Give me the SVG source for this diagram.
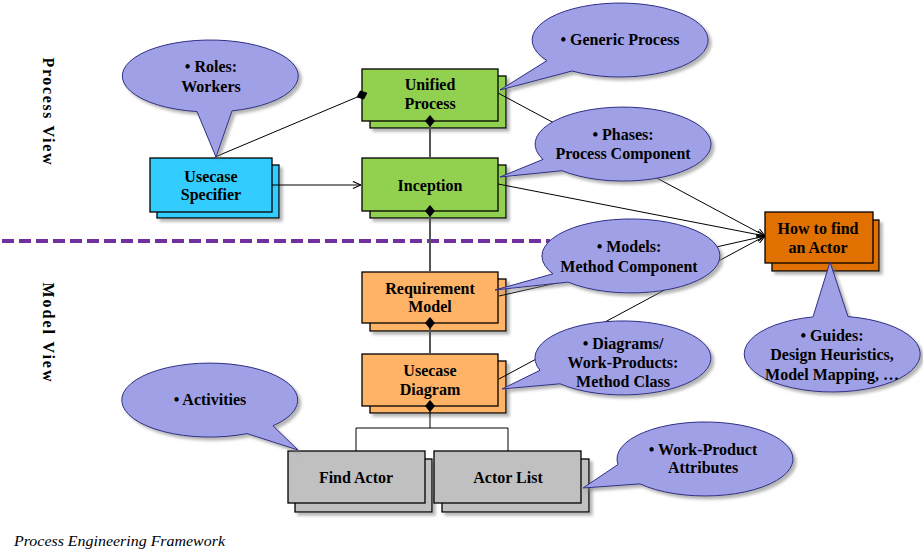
<svg xmlns="http://www.w3.org/2000/svg" width="923" height="554" viewBox="0 0 923 554">
<defs>
<style>
.t{font-family:"Liberation Serif","Times New Roman",serif;font-weight:bold;font-size:16px;fill:#000;text-anchor:middle}
.bt{font-family:"Liberation Serif","Times New Roman",serif;font-weight:bold;font-size:16px;fill:#000;text-anchor:middle}
.bub{fill:#A0A0E6;stroke:#2E2E86;stroke-width:1;filter:url(#sh)}
.box{stroke:#000;stroke-width:1.3}
.back{stroke:#000;stroke-width:1.3;filter:url(#sh)}
.gl{stroke:#555;stroke-width:2;fill:none}
.bl{stroke:#000;stroke-width:1;fill:none}
</style>
<filter id="sh" x="-10%" y="-10%" width="130%" height="140%">
<feDropShadow dx="3" dy="3" stdDeviation="1.5" flood-color="#777" flood-opacity="0.55"/>
</filter>
<marker id="dia" viewBox="-6 -5 12 10" refX="0" refY="0" markerWidth="12" markerHeight="10" markerUnits="userSpaceOnUse" orient="auto">
<path d="M-6,0 L0,-5 L6,0 L0,5 Z" fill="#000"/>
</marker>
<marker id="arr" viewBox="0 0 10 10" refX="10" refY="5" markerWidth="9" markerHeight="9" markerUnits="userSpaceOnUse" orient="auto">
<path d="M1,1 L10,5 L1,9" fill="none" stroke="#000" stroke-width="1.2"/>
</marker>
</defs>
<rect width="923" height="554" fill="#fff"/>

<text class="t" transform="translate(43,111) rotate(90)" textLength="107" lengthAdjust="spacing">Process View</text>
<text class="t" transform="translate(43,332) rotate(90)" textLength="99" lengthAdjust="spacing">Model View</text>
<line x1="2" y1="241" x2="550" y2="241" stroke="#7030A0" stroke-width="4" stroke-dasharray="12 5"/>

<g id="usecase-specifier">
<rect class="back" x="157" y="165" width="122" height="53" fill="#33CCFF"/>
<rect class="box" x="150" y="158" width="122" height="54" fill="#33CCFF"/>
<text class="t" x="211" y="182">Usecase</text>
<text class="t" x="211" y="200">Specifier</text>
</g>
<g id="unified-process">
<rect class="back" x="370" y="76" width="136" height="52" fill="#92D050"/>
<rect class="box" x="362" y="69" width="136" height="52" fill="#92D050"/>
<text class="t" x="430" y="90">Unified</text>
<text class="t" x="430" y="109">Process</text>
</g>
<g id="inception">
<rect class="back" x="370" y="165" width="136" height="53" fill="#92D050"/>
<rect class="box" x="362" y="158" width="136" height="53" fill="#92D050"/>
<text class="t" x="430" y="191">Inception</text>
</g>
<g id="requirement-model">
<rect class="back" x="370" y="279" width="136" height="52" fill="#FFB366"/>
<rect class="box" x="362" y="272" width="136" height="51" fill="#FFB366"/>
<text class="t" x="430" y="294">Requirement</text>
<text class="t" x="430" y="312">Model</text>
</g>
<g id="usecase-diagram">
<rect class="back" x="370" y="361" width="136" height="52" fill="#FFB366"/>
<rect class="box" x="362" y="354" width="136" height="52" fill="#FFB366"/>
<text class="t" x="430" y="376">Usecase</text>
<text class="t" x="430" y="395">Diagram</text>
</g>
<g id="find-actor">
<rect class="back" x="295" y="459" width="137" height="53" fill="#C0C0C0"/>
<rect class="box" x="288" y="451" width="137" height="52" fill="#C0C0C0"/>
<text class="t" x="356" y="483">Find Actor</text>
</g>
<g id="actor-list">
<rect class="back" x="442" y="459" width="147" height="53" fill="#C0C0C0"/>
<rect class="box" x="434" y="451" width="147" height="52" fill="#C0C0C0"/>
<text class="t" x="508" y="483">Actor List</text>
</g>
<g id="how-to-find-an-actor">
<rect class="back" x="772" y="220" width="107" height="51" fill="#E07000"/>
<rect class="box" x="765" y="212" width="108" height="51" fill="#E07000"/>
<text class="t" x="818" y="234">How to find</text>
<text class="t" x="818" y="253">an Actor</text>
</g>

<g id="connectors">
<line class="gl" x1="430" y1="121" x2="430" y2="158" marker-start="url(#dia)"/>
<line class="gl" x1="430" y1="211" x2="430" y2="272" marker-start="url(#dia)"/>
<line class="gl" x1="430" y1="323" x2="430" y2="354" marker-start="url(#dia)"/>
<path class="bl" d="M430,406 V428 M356,451 V428 H508 V451" marker-start="url(#dia)"/>
<line class="bl" x1="215" y1="157" x2="362" y2="95" marker-end="url(#dia)"/>
<line class="bl" x1="272" y1="185" x2="361" y2="185" marker-end="url(#arr)"/>
<line class="bl" x1="498" y1="93" x2="765" y2="236" marker-end="url(#arr)"/>
<line class="bl" x1="498" y1="184" x2="765" y2="236" marker-end="url(#arr)"/>
<line class="bl" x1="499" y1="296" x2="765" y2="236" marker-end="url(#arr)"/>
<line class="bl" x1="499" y1="379" x2="765" y2="236" marker-end="url(#arr)"/>
</g>

<g id="note-roles">
<path class="bub" d="M232,110.9 A88 36 0 1 0 197,111.6 L216,157 Z"/>
<text class="bt" x="211" y="72">• Roles:</text>
<text class="bt" x="211" y="92">Workers</text>
</g>
<g id="note-generic-process">
<path class="bub" d="M572,71 A88 37 0 1 0 547,60.6 L500,90 Z"/>
<text class="bt" x="620" y="45">• Generic Process</text>
</g>
<g id="note-phases">
<path class="bub" d="M562,170.7 A88 37 0 1 0 543,159.4 L500,177 Z"/>
<text class="bt" x="623" y="140">• Phases:</text>
<text class="bt" x="623" y="159">Process Component</text>
</g>
<g id="note-models">
<path class="bub" d="M568,282.1 A89 37 0 1 0 553,273.8 L495,290 Z"/>
<text class="bt" x="629" y="252">• Models:</text>
<text class="bt" x="629" y="272">Method Component</text>
</g>
<g id="note-diagrams">
<path class="bub" d="M560,383.8 A88 37 0 1 0 540,370.3 L502,389 Z"/>
<text class="bt" x="623" y="349">• Diagrams/</text>
<text class="bt" x="623" y="368">Work-Products:</text>
<text class="bt" x="623" y="387">Method Class</text>
</g>
<g id="note-guides">
<path class="bub" d="M813,316.9 A88 38 0 1 0 848,316.6 L830,262 Z"/>
<text class="bt" x="832" y="341">• Guides:</text>
<text class="bt" x="832" y="360">Design Heuristics,</text>
<text class="bt" x="832" y="380">Model Mapping, …</text>
</g>
<g id="note-attributes">
<path class="bub" d="M640,483.9 A88 37 0 1 0 618,464.5 L583,488 Z"/>
<text class="bt" x="703" y="455">• Work-Product</text>
<text class="bt" x="703" y="473">Attributes</text>
</g>
<g id="note-activities">
<path class="bub" d="M273,425.8 A88 37 0 1 0 247,433.6 L298,450 Z"/>
<text class="bt" x="210" y="405">• Activities</text>
</g>

<text x="14" y="546" font-family="'Liberation Serif','Times New Roman',serif" font-style="italic" font-size="15" textLength="211" lengthAdjust="spacingAndGlyphs">Process Engineering Framework</text>
</svg>
